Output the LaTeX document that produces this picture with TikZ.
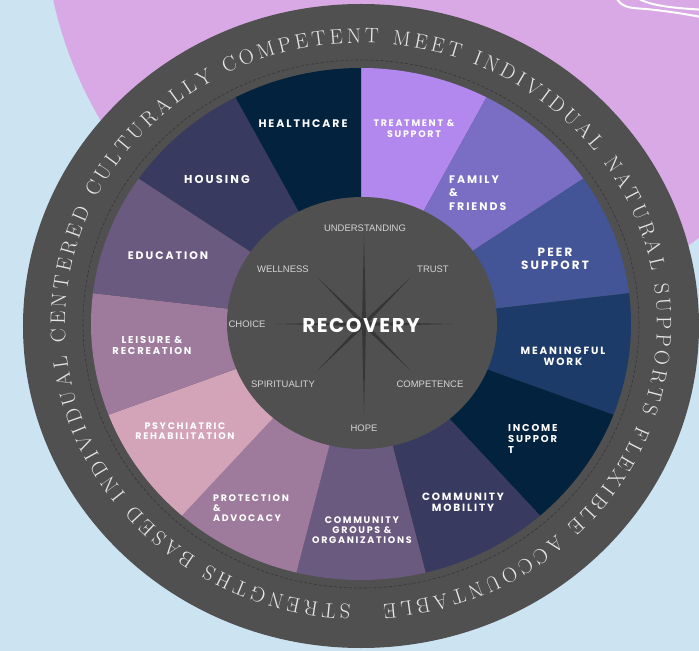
\documentclass[tikz,border=0pt]{standalone}
\usepackage{fontspec}
\usetikzlibrary{decorations.text}

\newfontfamily\segfont[LetterSpace=18]{Poppins}
\newfontfamily\recfont[LetterSpace=8]{Poppins}
\newfontfamily\hubfont{Liberation Sans}
\newcommand\ringfont{\fontsize{21}{21}\selectfont}

\definecolor{skyback}{HTML}{CCE4F1}
\definecolor{lilacback}{HTML}{D8A9E5}
\definecolor{ringgray}{HTML}{505050}
\definecolor{stargray}{HTML}{363636}
\definecolor{ringtext}{HTML}{E6E6E6}
\definecolor{hubtext}{HTML}{D4D4D4}
\definecolor{navycol}{HTML}{02223D}
\definecolor{treatcol}{HTML}{B287EE}
\definecolor{familycol}{HTML}{7A6EC4}
\definecolor{peercol}{HTML}{435596}
\definecolor{workcol}{HTML}{1D3B69}
\definecolor{mobilcol}{HTML}{383A60}
\definecolor{groupcol}{HTML}{6B5A80}
\definecolor{mauvecol}{HTML}{9E7B9C}
\definecolor{rosecol}{HTML}{D3A3B8}

\begin{document}
\begin{tikzpicture}[x=1bp, y=1bp,
        seglabel/.style 2 args={text=white, inner sep=0pt, align=center,
            font=\segfont\bfseries\fontsize{#1}{#2}\selectfont},
        hubword/.style={text=hubtext, inner sep=0pt,
            font=\hubfont\fontsize{9.5}{9.5}\selectfont}]
    \useasboundingbox (-361,-327) rectangle (338,324);
    \fill[skyback] (-361,-327) rectangle (338,324);
    \begin{scope}
        \clip (-361,-327) rectangle (338,324);
        \fill[lilacback] (91,411) circle (408);
        \draw[white, line width=2] (255,327) .. controls (260,316) and (270,316) .. (285,315)
            .. controls (305,313) and (325,310) .. (345,306);
        \draw[white, line width=2] (275,327) .. controls (288,318) and (312,316) .. (345,314);
    \end{scope}

    \fill[ringgray] (0,-2) ellipse [x radius=338, y radius=322];
    \draw[stargray, line width=0.6, dash pattern=on 3 off 2]
        (0,0) ellipse [x radius=278, y radius=264];

    \path[decorate, decoration={text along path, text color=ringtext,
            text align={fit to path},
            text={|\ringfont|STRENGTHS BASED INDIVIDUAL CENTERED CULTURALLY COMPETENT MEET INDIVIDUAL NATURAL SUPPORTS FLEXIBLE ACCOUNTABLE}}]
        (-92:296 and 281) arc [start angle=-92, end angle=-445.7, x radius=296, y radius=281];

    \fill[treatcol] (0,0) -- (90:270 and 256)
        arc [start angle=90, end angle=62.31, x radius=270, y radius=256] -- cycle;
    \fill[familycol] (0,0) -- (62.31:270 and 256)
        arc [start angle=62.31, end angle=34.62, x radius=270, y radius=256] -- cycle;
    \fill[peercol] (0,0) -- (34.62:270 and 256)
        arc [start angle=34.62, end angle=6.92, x radius=270, y radius=256] -- cycle;
    \fill[workcol] (0,0) -- (6.92:270 and 256)
        arc [start angle=6.92, end angle=-20.77, x radius=270, y radius=256] -- cycle;
    \fill[navycol] (0,0) -- (-20.77:270 and 256)
        arc [start angle=-20.77, end angle=-48.46, x radius=270, y radius=256] -- cycle;
    \fill[mobilcol] (0,0) -- (-48.46:270 and 256)
        arc [start angle=-48.46, end angle=-76.15, x radius=270, y radius=256] -- cycle;
    \fill[groupcol] (0,0) -- (-76.15:270 and 256)
        arc [start angle=-76.15, end angle=-103.85, x radius=270, y radius=256] -- cycle;
    \fill[mauvecol] (0,0) -- (-103.85:270 and 256)
        arc [start angle=-103.85, end angle=-131.54, x radius=270, y radius=256] -- cycle;
    \fill[rosecol] (0,0) -- (-131.54:270 and 256)
        arc [start angle=-131.54, end angle=-159.23, x radius=270, y radius=256] -- cycle;
    \fill[mauvecol] (0,0) -- (-159.23:270 and 256)
        arc [start angle=-159.23, end angle=-186.92, x radius=270, y radius=256] -- cycle;
    \fill[groupcol] (0,0) -- (-186.92:270 and 256)
        arc [start angle=-186.92, end angle=-214.62, x radius=270, y radius=256] -- cycle;
    \fill[mobilcol] (0,0) -- (-214.62:270 and 256)
        arc [start angle=-214.62, end angle=-242.31, x radius=270, y radius=256] -- cycle;
    \fill[navycol] (0,0) -- (-242.31:270 and 256)
        arc [start angle=-242.31, end angle=-270, x radius=270, y radius=256] -- cycle;

    \node[seglabel={9.5}{11}] (treatment) at (53,195) {TREATMENT \&\\SUPPORT};
    \node[seglabel={11}{13.5}, align=left, anchor=west] (family) at (88,131) {FAMILY\\\&\\FRIENDS};
    \node[seglabel={12}{13}] (peer) at (194,65) {PEER\\SUPPORT};
    \node[seglabel={10.5}{11}] (work) at (202,-32) {MEANINGFUL\\WORK};
    \node[seglabel={10}{11}, align=left, anchor=west] (income) at (147,-115) {INCOME\\SUPPOR\\T};
    \node[seglabel={10.5}{11}] (mobility) at (102,-178) {COMMUNITY\\MOBILITY};
    \node[seglabel={9.5}{10}] (groups) at (1,-206) {COMMUNITY\\GROUPS \&\\ORGANIZATIONS};
    \node[seglabel={9.5}{10}, align=left, anchor=west] (protection) at (-148,-184) {PROTECTION\\\&\\ADVOCACY};
    \node[seglabel={9.5}{10}] (psychiatric) at (-176,-107) {PSYCHIATRIC\\REHABILITATION};
    \node[seglabel={10}{11}] (leisure) at (-209,-21) {LEISURE \&\\RECREATION};
    \node[seglabel={11}{13}] (education) at (-193,68) {EDUCATION};
    \node[seglabel={11.5}{13}] (housing) at (-144,145) {HOUSING};
    \node[seglabel={11}{13}] (healthcare) at (-58,200) {HEALTHCARE};

    \fill[ringgray] (1,1) ellipse [x radius=135, y radius=126];
    \fill[stargray, shift={(3,0)}] (0:89) -- (22.5:5) -- (45:66) -- (67.5:5)
        -- (90:90) -- (112.5:5) -- (135:66) -- (157.5:5)
        -- (180:89) -- (202.5:5) -- (225:66) -- (247.5:5)
        -- (270:90) -- (292.5:5) -- (315:66) -- (337.5:5) -- cycle;

    \node[hubword] (understanding) at (4,96) {UNDERSTANDING};
    \node[hubword] (wellness) at (-78,55) {WELLNESS};
    \node[hubword] (trust) at (72,55) {TRUST};
    \node[hubword] (choice) at (-114,0) {CHOICE};
    \node[hubword] (spirituality) at (-78,-60) {SPIRITUALITY};
    \node[hubword] (competence) at (69,-60) {COMPETENCE};
    \node[hubword] (hope) at (3,-104) {HOPE};
    \node[text=white, inner sep=0pt, font=\recfont\bfseries\fontsize{20}{20}\selectfont]
        (recovery) at (0,-1) {RECOVERY};
\end{tikzpicture}
\end{document}
